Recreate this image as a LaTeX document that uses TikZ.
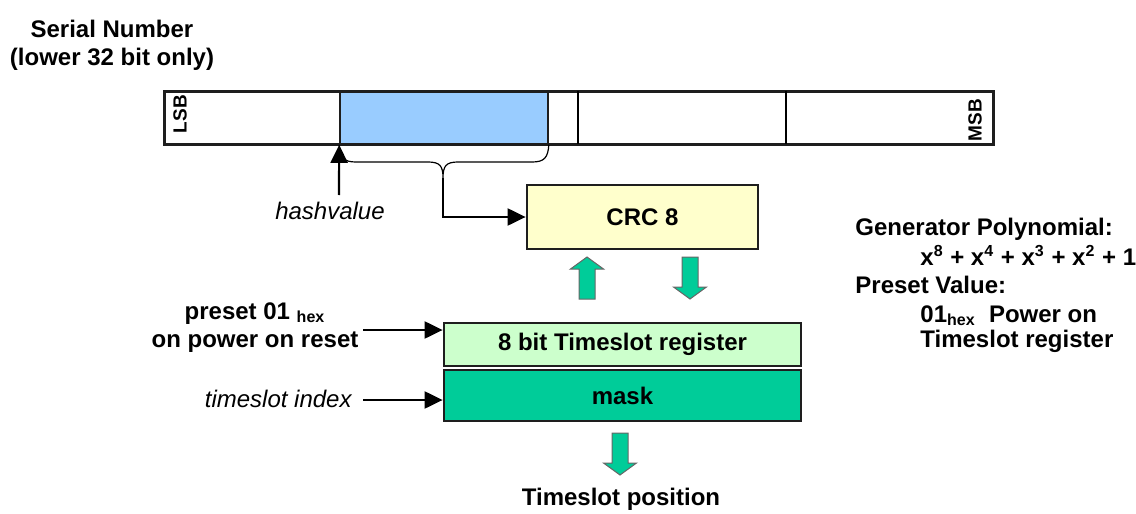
\documentclass[tikz,border=0pt]{standalone}
\usepackage{fontspec}
\setmainfont{Liberation Sans}
\usetikzlibrary{arrows.meta}
\definecolor{hashblue}{HTML}{99CCFF}
\definecolor{crcfill}{HTML}{FFFFCC}
\definecolor{regfill}{HTML}{CCFFCC}
\definecolor{maskfill}{HTML}{00CC99}
\definecolor{frame}{HTML}{1E1E1E}
\newcommand\bigfont{\fontsize{12}{14}\selectfont}
\begin{document}
\begin{tikzpicture}[x=0.5pt,y=-0.5pt,
  lbl/.style={font=\bigfont\bfseries, inner sep=0pt},
  note/.style={font=\bigfont\itshape, inner sep=0pt},
  tag/.style={font=\fontsize{9.5}{11}\selectfont\bfseries, inner sep=0pt, rotate=90},
  block/.style={draw=frame, line width=1.4pt, inner sep=0pt, font=\bigfont\bfseries},
  feed/.style={line width=1.1pt, -{Triangle[length=9pt,width=8.5pt]}},
  blk/.style={fill=maskfill, draw=black!60, line width=0.5pt},
  flow/.pic={\draw[blk] (-8,0) -- (8,0) -- (8,-30) -- (16.5,-30) -- (0,-42)
             -- (-16.5,-30) -- (-8,-30) -- cycle;}]
\useasboundingbox (0,0) rectangle (1136,514);

% serial number register
\node[lbl, align=center, anchor=base] (title) at (112,65) {Serial Number\\(lower 32 bit only)};
\node[fill=hashblue, draw=frame, line width=0.8pt, inner sep=0pt,
      minimum width=104pt, minimum height=26.5pt] (hash) at (444,117.5) {};
\node[draw=frame, line width=1.5pt, inner sep=0pt,
      minimum width=414.5pt, minimum height=26.5pt] (bar) at (578.5,117.5) {};
\draw[line width=0.6pt] (578,91) -- (578,144);
\draw[line width=0.7pt] (786,91) -- (786,144);
\node[tag] (lsb) at (180,114) {LSB};
\node[tag] (msb) at (975,120) {MSB};

% hash value marker
\node[note, anchor=base] (hv) at (330,219) {hashvalue};
\coordinate (hvtail) at (339,195);
\draw[feed] (hvtail) -- (hash.south west);

% brace under the hashed bits
\coordinate (cusp) at (443,178);
\draw[line width=0.6pt] (hash.south west)
  .. controls (340,158) and (344,162) .. (356,162) -- (428,162)
  .. controls (440,162) and (443,166) .. (cusp)
  .. controls (443,166) and (446,162) .. (458,162) -- (532,162)
  .. controls (544,162) and (548,158) .. (hash.south east);

% CRC block
\node[block, fill=crcfill, minimum width=115.5pt, minimum height=32pt] (crc) at (642.5,217) {CRC 8};
\draw[line width=1.1pt, -{Triangle[length=9pt,width=8.5pt]}] (cusp) |- (crc.west);

% timeslot register and mask
\node[block, fill=regfill, minimum width=178.5pt, minimum height=21.5pt] (reg) at (622.5,344.5) {8 bit Timeslot register};
\node[block, fill=maskfill, minimum width=178.5pt, minimum height=25.5pt] (mask) at (622.5,395.5) {mask};

\pic at (587,299) {flow};
\pic[rotate=180] at (690,257) {flow};
\pic[rotate=180] at (620,433) {flow};

% inputs on the left
\node[lbl, align=center, anchor=base] (preset) at (255,347) {preset 01 \textsubscript{hex}\\on power on reset};
\coordinate (presetin) at (363,330);
\draw[feed] (presetin) -- (presetin -| reg.west);
\node[note, anchor=base east] (idx) at (352,407) {timeslot index};
\coordinate (idxin) at (363,400);
\draw[feed] (idxin) -- (idxin -| mask.west);

% output
\node[lbl, anchor=base] (pos) at (621,505) {Timeslot position};

% parameters
\node[lbl, anchor=base west] (gp) at (855,235) {Generator Polynomial:};
\node[lbl, anchor=base west] (poly) at (920,265) {x\textsuperscript{8} + x\textsuperscript{4} + x\textsuperscript{3} + x\textsuperscript{2} + 1};
\node[lbl, anchor=base west] (pv) at (855,293) {Preset Value:};
\node[lbl, anchor=base west] (pv1) at (920,322) {01\textsubscript{hex}\ \ Power on};
\node[lbl, anchor=base west] (pv2) at (920,347) {Timeslot register};
\end{tikzpicture}
\end{document}
